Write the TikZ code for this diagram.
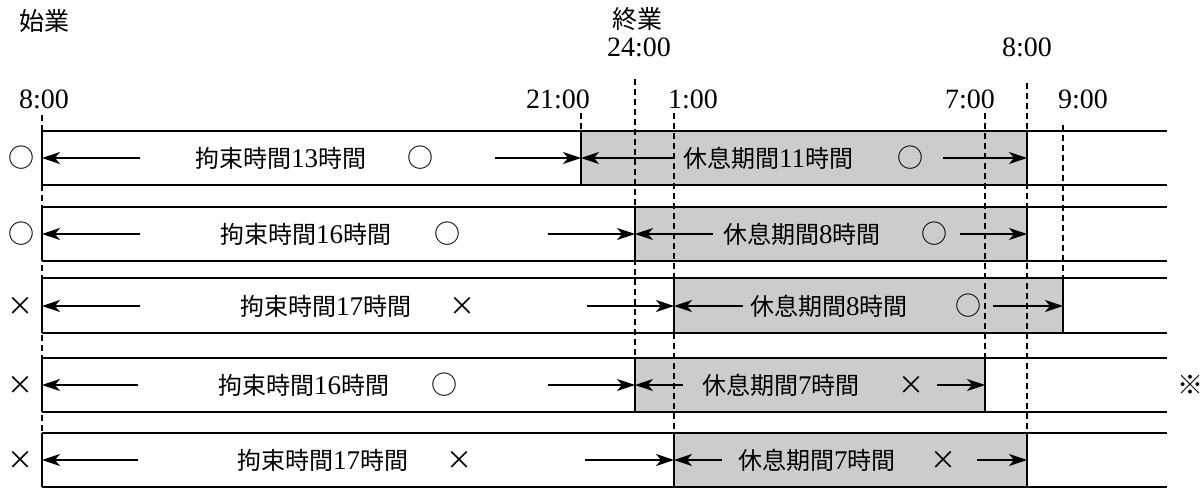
\documentclass[tikz,border=0pt]{standalone}
\usepackage{fontspec}
\setmainfont{Liberation Serif}
\newfontfamily\cjk{Noto Sans CJK JP}
\usetikzlibrary{arrows.meta}
\newcommand{\dg}[1]{{\fontsize{27}{30}\selectfont #1}}
\tikzset{
  rowline/.style={line width=1.3pt},
  restfill/.style={fill=black!20},
  guide/.style={line width=1.3pt, dash pattern=on 6pt off 4pt},
  arr/.style={line width=1.2pt, -{Stealth[length=18pt,width=12pt,inset=5pt]}},
  lbl/.style={inner sep=0pt, anchor=west, font=\fontsize{24}{28}\selectfont},
  mk/.style={inner sep=0pt, font=\cjk\fontsize{26}{28}\selectfont},
  tm/.style={inner sep=0pt, font=\fontsize{28}{30}\selectfont},
  hd/.style={inner sep=0pt, font=\cjk\fontsize{25}{28}\selectfont}
}
\begin{document}
\begin{tikzpicture}[x=1pt,y=-1pt]
\useasboundingbox (0,0) rectangle (1204,489);
% shaded rest periods
\fill[restfill] (581,131) rectangle (1027,185);
\fill[restfill] (635,207) rectangle (1027,261);
\fill[restfill] (674,278) rectangle (1063,333);
\fill[restfill] (635,358) rectangle (985,412);
\fill[restfill] (674,433) rectangle (1027,487);
% dashed guides
\draw[guide] (42,115) -- (42,487);
\draw[guide] (581,113) -- (581,131);
\draw[guide] (635,79) -- (635,358);
\draw[guide] (674,113) -- (674,433);
\draw[guide] (985,113) -- (985,358);
\draw[guide] (1027,83) -- (1027,433);
\draw[guide] (1063,125) -- (1063,278);
% row lines
\foreach \t/\b/\s/\e in {131/185/581/1027, 207/261/635/1027, 278/333/674/1063, 358/412/635/985, 433/487/674/1027}{
  \draw[rowline] (42,\t) -- (1167,\t);
  \draw[rowline] (42,\b) -- (1167,\b);
  \draw[rowline] (42,\t) -- (42,\b);
  \draw[rowline] (\s,\t) -- (\s,\b);
  \draw[rowline] (\e,\t) -- (\e,\b);
}
% headings and times
\node[hd] (shigyo) at (44,21) {始業};
\node[hd] (shugyo) at (637,19) {終業};
\node[tm] (t24) at (639,47) {24:00};
\node[tm] (t8b) at (1027,47) {8:00};
\node[tm] (t8) at (44,99) {8:00};
\node[tm] (t21) at (558,99) {21:00};
\node[tm] (t1) at (693,99) {1:00};
\node[tm] (t7) at (970,99) {7:00};
\node[tm] (t9) at (1083,99) {9:00};
% left marks
\node[mk] (m1) at (22,158) {○};
\node[mk] (m2) at (22,234) {○};
\node[mk] (m3) at (21,306) {×};
\node[mk] (m4) at (21,385) {×};
\node[mk] (m5) at (21,460) {×};
\node[mk] (note) at (1190,385) {※};
% row 1
\coordinate (L1) at (42,158); \coordinate (S1) at (581,158); \coordinate (E1) at (1027,158);
\node[lbl] (k1) at (195,158) {{\cjk 拘束時間}\dg{13}{\cjk 時間}};
\node[mk] (k1m) at (420,158) {○};
\node[lbl] (r1) at (683,158) {{\cjk 休息期間}\dg{11}{\cjk 時間}};
\node[mk] (r1m) at (910,158) {○};
\coordinate (a1) at (140,158); \coordinate (b1) at (495,158);
\coordinate (c1) at (675,158); \coordinate (d1) at (943,158);
\draw[arr] (a1) -- (L1); \draw[arr] (b1) -- (S1);
\draw[arr] (c1) -- (S1); \draw[arr] (d1) -- (E1);
% row 2
\coordinate (L2) at (42,234); \coordinate (S2) at (635,234); \coordinate (E2) at (1027,234);
\node[lbl] (k2) at (220,234) {{\cjk 拘束時間}\dg{16}{\cjk 時間}};
\node[mk] (k2m) at (447,234) {○};
\node[lbl] (r2) at (723,234) {{\cjk 休息期間}\dg{8}{\cjk 時間}};
\node[mk] (r2m) at (934,234) {○};
\coordinate (a2) at (140,234); \coordinate (b2) at (548,234);
\coordinate (c2) at (713,234); \coordinate (d2) at (960,234);
\draw[arr] (a2) -- (L2); \draw[arr] (b2) -- (S2);
\draw[arr] (c2) -- (S2); \draw[arr] (d2) -- (E2);
% row 3
\coordinate (L3) at (42,306); \coordinate (S3) at (674,306); \coordinate (E3) at (1063,306);
\node[lbl] (k3) at (240,306) {{\cjk 拘束時間}\dg{17}{\cjk 時間}};
\node[mk] (k3m) at (462,306) {×};
\node[lbl] (r3) at (750,306) {{\cjk 休息期間}\dg{8}{\cjk 時間}};
\node[mk] (r3m) at (968,306) {○};
\coordinate (a3) at (140,306); \coordinate (b3) at (587,306);
\coordinate (c3) at (743,306); \coordinate (d3) at (993,306);
\draw[arr] (a3) -- (L3); \draw[arr] (b3) -- (S3);
\draw[arr] (c3) -- (S3); \draw[arr] (d3) -- (E3);
% row 4
\coordinate (L4) at (42,385); \coordinate (S4) at (635,385); \coordinate (E4) at (985,385);
\node[lbl] (k4) at (218,385) {{\cjk 拘束時間}\dg{16}{\cjk 時間}};
\node[mk] (k4m) at (444,385) {○};
\node[lbl] (r4) at (702,385) {{\cjk 休息期間}\dg{7}{\cjk 時間}};
\node[mk] (r4m) at (911,385) {×};
\coordinate (a4) at (138,385); \coordinate (b4) at (548,385);
\coordinate (c4) at (683,385); \coordinate (d4) at (937,385);
\draw[arr] (a4) -- (L4); \draw[arr] (b4) -- (S4);
\draw[arr] (c4) -- (S4); \draw[arr] (d4) -- (E4);
% row 5
\coordinate (L5) at (42,460); \coordinate (S5) at (674,460); \coordinate (E5) at (1027,460);
\node[lbl] (k5) at (237,460) {{\cjk 拘束時間}\dg{17}{\cjk 時間}};
\node[mk] (k5m) at (459,460) {×};
\node[lbl] (r5) at (738,460) {{\cjk 休息期間}\dg{7}{\cjk 時間}};
\node[mk] (r5m) at (943,460) {×};
\coordinate (a5) at (138,460); \coordinate (b5) at (585,460);
\coordinate (c5) at (722,460); \coordinate (d5) at (977,460);
\draw[arr] (a5) -- (L5); \draw[arr] (b5) -- (S5);
\draw[arr] (c5) -- (S5); \draw[arr] (d5) -- (E5);
\end{tikzpicture}
\end{document}
